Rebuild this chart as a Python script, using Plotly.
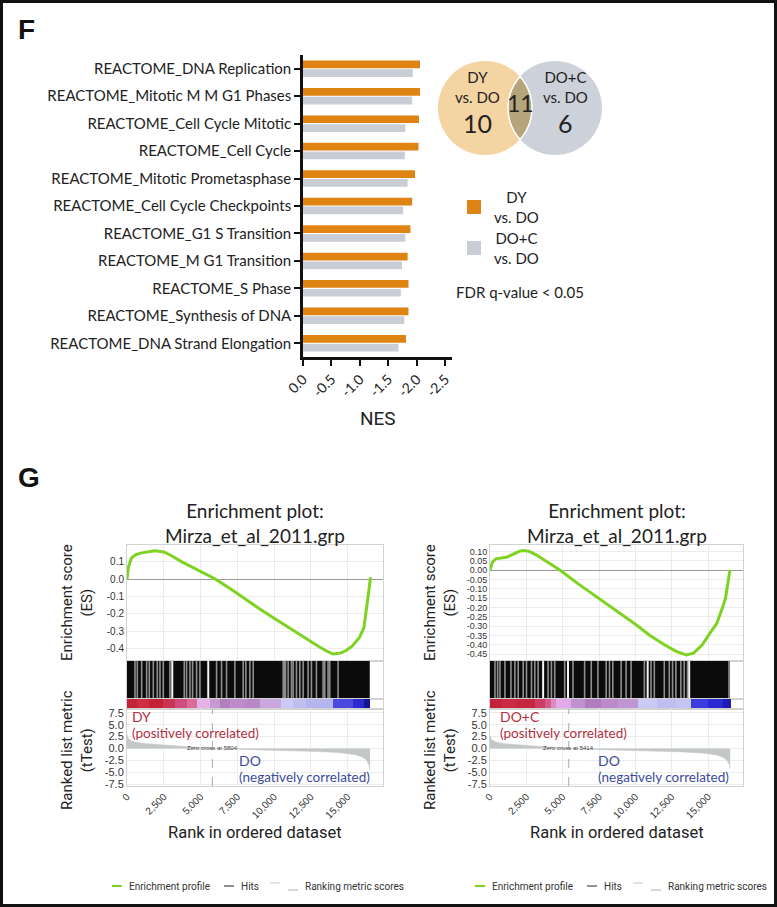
import numpy as np
import plotly.graph_objects as go

W, H = 777, 907

# ---------------- Panel F data ----------------
pathways = [
    "REACTOME_DNA Replication",
    "REACTOME_Mitotic M M G1 Phases",
    "REACTOME_Cell Cycle Mitotic",
    "REACTOME_Cell Cycle",
    "REACTOME_Mitotic Prometasphase",
    "REACTOME_Cell Cycle Checkpoints",
    "REACTOME_G1 S Transition",
    "REACTOME_M G1 Transition",
    "REACTOME_S Phase",
    "REACTOME_Synthesis of DNA",
    "REACTOME_DNA Strand Elongation",
]
nes_dy_vs_do = [-2.14, -2.08, -2.04, -2.03, -1.97, -1.92, -1.89, -1.84, -1.855, -1.855, -1.81]
nes_doc_vs_do = [-1.93, -1.92, -1.80, -1.79, -1.84, -1.76, -1.80, -1.74, -1.72, -1.78, -1.68]
nes_tickvals = [0, -0.5, -1.0, -1.5, -2.0, -2.5]
nes_ticktext = ["0.0", "-0.5", "-1.0", "-1.5", "-2.0", "-2.5"]
series_labels = ["DY<br>vs. DO", "DO+C<br>vs. DO"]
venn_labels = ["DY<br>vs. DO", "DO+C<br>vs. DO"]
venn_counts = [10, 11, 6]  # only-left, shared, only-right

# ---------------- Panel G data ----------------
rank_tickvals = [0, 2500, 5000, 7500, 10000, 12500, 15000]
rank_ticktext = ["0", "2,500", "5,000", "7,500", "10,000", "12,500", "15,000"]
rm_tickvals = [7.5, 5.0, 2.5, 0.0, -2.5, -5.0, -7.5]
rm_ticktext = ["7.5", "5.0", "2.5", "0.0", "-2.5", "-5.0", "-7.5"]

# left: DY vs DO
es_rank_left = [0, 100, 300, 600, 1000, 1500, 1900, 2500, 3000, 3700, 4500, 5200, 6000, 7000, 8000,
                9000, 10000, 11000, 12000, 13000, 13500, 14000, 14500, 14900, 15300, 15800, 16100,
                16300, 16450, 16550]
es_left = [0.0, 0.07, 0.12, 0.14, 0.15, 0.155, 0.162, 0.155, 0.135, 0.10, 0.065, 0.035, 0.0, -0.055,
           -0.115, -0.17, -0.225, -0.28, -0.33, -0.385, -0.41, -0.43, -0.425, -0.41, -0.385, -0.335,
           -0.28, -0.17, -0.06, 0.01]
es_ticks_left = [0.1, 0.0, -0.1, -0.2, -0.3, -0.4]
es_ticktext_left = ["0.1", "0.0", "-0.1", "-0.2", "-0.3", "-0.4"]
hit_gaps_left = [543, 701, 996, 1335, 1516, 1788, 2059, 2240, 2466, 2919, 3892, 4050, 4277, 4458,
                 4730, 4956, 6088, 6428, 6767, 7332, 7898, 8079, 8350, 8577, 10614, 10700, 10772,
                 10953, 11179, 11293, 11519, 11745, 11971, 12310, 12536, 12875, 13328, 13441,
                 13667, 13781, 14347]
hit_white_left = [3077, 5522]
hits_end_left = 16500
band_edges_left = [0, 656, 1500, 2466, 3258, 4050, 4730, 5635, 6300, 6993, 8000, 9030, 10500,
                   11300, 12200, 14000, 15360, 16100, 16500]
band_colors_left = ["#C62238", "#CC2E46", "#C42036", "#CA3452", "#D04C7C", "#DA6A98", "#E6B2EA",
                    "#C49AD0", "#B27EBE", "#BE8CCA", "#B888C6", "#CCA6DE", "#CACAF4", "#BEBEF0",
                    "#B4B4EE", "#4A4AE0", "#2A2AD0", "#14148C"]
rm_rank_left = [0, 100, 300, 600, 1000, 2000, 3000, 4000, 5000, 5804, 7000, 9000, 11000, 13000,
                14500, 15500, 16000, 16300, 16450, 16520]
rm_left = [3.0, 2.0, 1.6, 1.3, 1.1, 0.8, 0.6, 0.4, 0.2, 0.0, -0.15, -0.3, -0.45, -0.65, -0.9,
           -1.3, -1.8, -2.5, -3.5, -4.6]
zero_cross_left = 5804

# right: DO+C vs DO
es_rank_right = [0, 150, 400, 700, 1200, 1600, 2000, 2300, 2700, 3200, 3700, 4200, 4800, 6000,
                 7000, 8000, 9000, 10000, 11000, 12000, 12800, 13500, 14000, 14600, 15200, 15600,
                 16000, 16200, 16400, 16500]
es_right = [0.0, 0.04, 0.06, 0.065, 0.07, 0.085, 0.1, 0.105, 0.1, 0.08, 0.055, 0.03, 0.0, -0.07,
            -0.125, -0.18, -0.235, -0.29, -0.35, -0.40, -0.435, -0.455, -0.445, -0.40, -0.33,
            -0.285, -0.20, -0.15, -0.05, 0.0]
es_ticks_right = [0.10, 0.05, 0.0, -0.05, -0.10, -0.15, -0.20, -0.25, -0.30, -0.35, -0.40, -0.45]
es_ticktext_right = ["0.10", "0.05", "0.00", "-0.05", "-0.10", "-0.15", "-0.20", "-0.25", "-0.30",
                     "-0.35", "-0.40", "-0.45"]
hit_gaps_right = [342, 525, 685, 1027, 1438, 1712, 1940, 2283, 2511, 2854, 3082, 3311, 3995, 4224,
                  4452, 5137, 5708, 6507, 6963, 7420, 7991, 8219, 8447, 9018, 9361, 9703, 10616,
                  11073, 11301, 11986, 12329, 12557, 12785, 13128, 13356, 13584, 16438]
hit_white_right = [3653, 5365, 10845, 13699]
hits_end_right = 16500
band_edges_right = [0, 800, 1800, 3082, 3800, 4224, 4566, 5594, 6500, 7600, 8800, 10160, 11500,
                    12800, 13813, 15000, 16000, 16550]
band_colors_right = ["#C42238", "#CA2C44", "#C6263E", "#CC3C64", "#D45A8C", "#DE8ABC", "#E2AAEA",
                     "#BE92CE", "#B07CBE", "#BC8ACA", "#C096D2", "#CACAF4", "#BEBEF0", "#C4C4F2",
                     "#3C3CDC", "#2A2AD2", "#1C1CB0"]
rm_rank_right = [0, 100, 300, 600, 1000, 2000, 3000, 4000, 5000, 5414, 7000, 9000, 11000, 13000,
                 14500, 15500, 16000, 16300, 16450, 16520]
rm_right = [2.8, 1.9, 1.5, 1.2, 1.0, 0.75, 0.5, 0.3, 0.1, 0.0, -0.2, -0.35, -0.5, -0.7, -0.95,
            -1.35, -1.8, -2.5, -3.3, -4.2]
zero_cross_right = 5414

# ---------------- styling ----------------
ORANGE = "#DF8412"
BARGRAY = "#C9CED6"
V_LEFT = "#F4D4A2"
V_RIGHT = "#CDD2DA"
V_MID = "#B6A57C"
GREEN = "#7ED321"
FILLGRAY = "#C3C7C7"
GRID = "#ECECEC"
FRAME = "#D2D2D2"
RED = "#B3303F"
BLUE = "#3A4A9E"
SANS = "Lato, 'Noto Sans', sans-serif"
COND = "Roboto, 'Liberation Sans', sans-serif"
ARIAL = "'Liberation Sans', Arial, sans-serif"


def fx(px):
    return px / W


def fy(py):
    return 1 - py / H


fig = go.Figure()
layout = {}
annotations = []
shapes = []


def note(text, x, y, size, family=SANS, color="#222", xref="paper", yref="paper", xanchor="center",
         **kw):
    annotations.append(dict(text=text, x=x, y=y, xref=xref, yref=yref, xanchor=xanchor, yanchor="middle",
                            showarrow=False, font=dict(family=family, size=size, color=color), **kw))


# ---------------- Panel F bars ----------------
for vals, col, nm in [(nes_dy_vs_do, ORANGE, series_labels[0]), (nes_doc_vs_do, BARGRAY, series_labels[1])]:
    fig.add_trace(go.Bar(y=pathways, x=vals, orientation="h", marker_color=col, marker_line_width=0,
                         name=nm, showlegend=False, xaxis="x", yaxis="y", hoverinfo="skip"))

layout["xaxis"] = dict(domain=[fx(303), fx(452)], range=[0, -2.62], tickvals=nes_tickvals,
                       ticktext=nes_ticktext, tickangle=-45, ticks="outside", ticklen=6, tickwidth=2,
                       tickcolor="#111", showline=True, linewidth=2.5, linecolor="#111", showgrid=False,
                       zeroline=False, tickfont=dict(family=SANS, size=14, color="#222"), anchor="y",
                       automargin=False)
layout["yaxis"] = dict(domain=[fy(357), fy(55)], type="category", range=[10.5, -0.5], ticks="outside",
                       ticklen=6, tickwidth=2, tickcolor="#111", showline=True, linewidth=2.5,
                       linecolor="#111", showgrid=False, zeroline=False,
                       tickfont=dict(family=SANS, size=15, color="#222"), anchor="x", automargin=False)

note("NES", fx(378), fy(418), 19, family=COND)
note("<b>F</b>", fx(16), fy(29), 28, family=ARIAL, color="#111", xanchor="left")
note("<b>G</b>", fx(16), fy(478), 28, family=ARIAL, color="#111", xanchor="left")

# legend for bars
for i, (col, lab) in enumerate([(ORANGE, series_labels[0]), (BARGRAY, series_labels[1])]):
    cy = 207 + i * 41
    shapes.append(dict(type="rect", xref="paper", yref="paper", x0=fx(467), x1=fx(481),
                       y0=fy(cy + 7), y1=fy(cy - 7), fillcolor=col, line_width=0))
    note(lab, fx(516), fy(cy), 15, align="center")
note("FDR q-value < 0.05", fx(454), fy(292), 15, xanchor="left")

# ---------------- Venn ----------------
layout["xaxis10"] = dict(domain=[fx(420), fx(620)], range=[0, 200], visible=False, anchor="y10",
                         automargin=False)
layout["yaxis10"] = dict(domain=[fy(160), fy(50)], range=[0, 110], visible=False, anchor="x10",
                         automargin=False)
R = 47
cL, cR, cy0 = 65, 135, 52
shapes.append(dict(type="circle", xref="x10", yref="y10", x0=cL - R, x1=cL + R, y0=cy0 - R, y1=cy0 + R,
                   fillcolor=V_LEFT, line_width=0, layer="below"))
shapes.append(dict(type="circle", xref="x10", yref="y10", x0=cR - R, x1=cR + R, y0=cy0 - R, y1=cy0 + R,
                   fillcolor=V_RIGHT, line_width=0, layer="below"))
d = cR - cL
h = np.sqrt(R ** 2 - (d / 2) ** 2)
ang = np.arcsin(h / R)
t1 = np.linspace(-ang, ang, 40)
arc1 = [(cL + R * np.cos(t), cy0 + R * np.sin(t)) for t in t1]          # left circle's right arc
t2 = np.linspace(np.pi - ang, np.pi + ang, 40)
arc2 = [(cR + R * np.cos(t), cy0 + R * np.sin(t)) for t in t2]          # right circle's left arc
pts = arc1 + arc2
path = "M " + " L ".join(f"{x:.2f},{y:.2f}" for x, y in pts) + " Z"
shapes.append(dict(type="path", xref="x10", yref="y10", path=path, fillcolor=V_MID,
                   line=dict(color="white", width=1.5), layer="below"))
note(venn_labels[0], 57, 73, 15, xref="x10", yref="y10")
note(str(venn_counts[0]), 57, 37, 25, xref="x10", yref="y10")
note(str(venn_counts[1]), 100, 57, 23, xref="x10", yref="y10")
note(venn_labels[1], 145, 73, 15, xref="x10", yref="y10")
note(str(venn_counts[2]), 145, 37, 25, xref="x10", yref="y10")


# ---------------- GSEA panels ----------------
def gsea_panel(k, x0, x1, es_rank, es_vals, es_range, es_ticks, es_ticktext, es_fs,
               gaps, whites, hits_end, band_edges, band_colors, rm_rank, rm_vals, zc,
               pos_label, pos_x, neg_x):
    a_es, a_hit, a_band, a_rm = k, k + 1, k + 2, k + 3
    xr = [0, 17400]
    dom = [fx(x0), fx(x1)]
    base_x = dict(domain=dom, range=xr, zeroline=False, showline=True, mirror=True, linecolor=FRAME,
                  linewidth=1, tickvals=rank_tickvals, automargin=False)
    # ES
    layout[f"xaxis{a_es}"] = dict(base_x, showticklabels=False, showgrid=True, gridcolor=GRID,
                                  anchor=f"y{a_es}")
    layout[f"yaxis{a_es}"] = dict(domain=[fy(661), fy(545)], range=es_range, tickvals=es_ticks,
                                  ticktext=es_ticktext, showgrid=True, gridcolor=GRID, zeroline=True,
                                  zerolinecolor="#9A9A9A", zerolinewidth=1, showline=True, mirror=True,
                                  linecolor=FRAME, linewidth=1, ticks="", ticklen=0,
                                  tickfont=dict(family=ARIAL, size=es_fs, color="#333"),
                                  anchor=f"x{a_es}", automargin=False)
    fig.add_trace(go.Scatter(x=es_rank, y=es_vals, mode="lines", line=dict(color=GREEN, width=3),
                             xaxis=f"x{a_es}", yaxis=f"y{a_es}", showlegend=False, hoverinfo="skip"))
    # hits
    layout[f"xaxis{a_hit}"] = dict(base_x, showticklabels=False, showgrid=False, anchor=f"y{a_hit}")
    layout[f"yaxis{a_hit}"] = dict(domain=[fy(699), fy(661)], range=[0, 1], showticklabels=False,
                                   showgrid=False, zeroline=False, showline=True, mirror=True,
                                   linecolor=FRAME, anchor=f"x{a_hit}", automargin=False)
    fig.add_trace(go.Bar(x=[hits_end / 2], y=[1], width=[hits_end], base=[0], marker_color="#0B0B0B",
                         marker_line_width=0, xaxis=f"x{a_hit}", yaxis=f"y{a_hit}", showlegend=False,
                         hoverinfo="skip"))
    gx, gy = [], []
    for g in gaps:
        gx += [g, g, None]
        gy += [0, 1, None]
    fig.add_trace(go.Scatter(x=gx, y=gy, mode="lines", line=dict(color="#8E8E8E", width=1.6),
                             xaxis=f"x{a_hit}", yaxis=f"y{a_hit}", showlegend=False, hoverinfo="skip"))
    wx, wy = [], []
    for g in whites:
        wx += [g, g, None]
        wy += [0, 1, None]
    fig.add_trace(go.Scatter(x=wx, y=wy, mode="lines", line=dict(color="#F4F4F4", width=2),
                             xaxis=f"x{a_hit}", yaxis=f"y{a_hit}", showlegend=False, hoverinfo="skip"))
    # colour band
    layout[f"xaxis{a_band}"] = dict(base_x, showticklabels=False, showgrid=False, anchor=f"y{a_band}")
    layout[f"yaxis{a_band}"] = dict(domain=[fy(709), fy(699)], range=[0, 1], showticklabels=False,
                                    showgrid=False, zeroline=False, showline=True, mirror=True,
                                    linecolor=FRAME, anchor=f"x{a_band}", automargin=False)
    n = len(band_colors)
    cs = []
    for i, c in enumerate(band_colors):
        cs.append([i / n, c])
        cs.append([(i + 1) / n, c])
    fig.add_trace(go.Heatmap(x=band_edges, y=[0.08, 1], z=[[i + 0.5 for i in range(n)]], zmin=0, zmax=n,
                             colorscale=cs, showscale=False, xaxis=f"x{a_band}", yaxis=f"y{a_band}",
                             hoverinfo="skip"))
    # ranked list metric
    layout[f"xaxis{a_rm}"] = dict(base_x, ticktext=rank_ticktext, tickangle=-45, showgrid=True,
                                  gridcolor=GRID, ticks="", tickfont=dict(family=ARIAL, size=10, color="#333"),
                                  anchor=f"y{a_rm}")
    layout[f"yaxis{a_rm}"] = dict(domain=[fy(786), fy(709)], range=[-7.9, 8.3], tickvals=rm_tickvals,
                                  ticktext=rm_ticktext, showgrid=True, gridcolor=GRID, zeroline=False,
                                  showline=True, mirror=True, linecolor=FRAME, ticks="",
                                  tickfont=dict(family=ARIAL, size=11, color="#333"), anchor=f"x{a_rm}",
                                  automargin=False)
    fig.add_trace(go.Scatter(x=rm_rank, y=rm_vals, mode="lines", fill="tozeroy", fillcolor=FILLGRAY,
                             line=dict(color=FILLGRAY, width=0.5), xaxis=f"x{a_rm}", yaxis=f"y{a_rm}",
                             showlegend=False, hoverinfo="skip"))
    shapes.append(dict(type="line", xref=f"x{a_rm}", yref=f"y{a_rm} domain", x0=zc, x1=zc, y0=0, y1=1,
                       line=dict(color="#AAAAAA", width=1, dash="dash")))
    note(f"Zero cross at {zc}", zc, 0, 6, family=ARIAL, color="#444", xref=f"x{a_rm}", yref=f"y{a_rm}")
    dx, dy = f"x{a_rm} domain", f"y{a_rm} domain"
    note(pos_label, pos_x, 0.9, 14, color=RED, xref=dx, yref=dy, xanchor="left")
    note("(positively correlated)", pos_x, 0.69, 13.5, color=RED, xref=dx, yref=dy, xanchor="left")
    note("DO", neg_x, 0.33, 14, color=BLUE, xref=dx, yref=dy, xanchor="left")
    note("(negatively correlated)", neg_x, 0.12, 13.5, color=BLUE, xref=dx, yref=dy, xanchor="left")
    # titles
    cx = (x0 + x1) / 2
    note("Enrichment plot:<br>Mirza_et_al_2011.grp", fx(cx), fy(523), 19)
    note("Rank in ordered dataset", fx(cx), fy(832), 16.5, family=COND)
    tx = x0 - 50
    note("Enrichment score<br>(ES)", fx(tx), fy(603), 15, family=COND, textangle=-90)
    note("Ranked list metric<br>(tTest)", fx(tx), fy(750), 15, family=COND, textangle=-90)
    # bottom legend
    lx = x0 - 15
    ly = 886
    shapes.append(dict(type="line", xref="paper", yref="paper", x0=fx(lx), x1=fx(lx + 10), y0=fy(ly),
                       y1=fy(ly), line=dict(color=GREEN, width=2)))
    note("Enrichment profile", fx(lx + 15), fy(ly), 10, family=COND, color="#333", xanchor="left")
    shapes.append(dict(type="line", xref="paper", yref="paper", x0=fx(lx + 112), x1=fx(lx + 122),
                       y0=fy(ly), y1=fy(ly), line=dict(color="#222", width=1)))
    note("Hits", fx(lx + 127), fy(ly), 10, family=COND, color="#333", xanchor="left")
    shapes.append(dict(type="line", xref="paper", yref="paper", x0=fx(lx + 158), x1=fx(lx + 168),
                       y0=fy(ly - 3), y1=fy(ly - 3), line=dict(color="#C8C8C8", width=1)))
    shapes.append(dict(type="line", xref="paper", yref="paper", x0=fx(lx + 176), x1=fx(lx + 186),
                       y0=fy(ly + 4), y1=fy(ly + 4), line=dict(color="#C8C8C8", width=1.5)))
    note("Ranking metric scores", fx(lx + 191), fy(ly), 10, family=COND, color="#333", xanchor="left")


gsea_panel(2, 127, 383, es_rank_left, es_left, [-0.47, 0.195], es_ticks_left, es_ticktext_left, 10,
           hit_gaps_left, hit_white_left, hits_end_left, band_edges_left, band_colors_left,
           rm_rank_left, rm_left, zero_cross_left, "DY", 0.01, 0.43)
gsea_panel(6, 490, 743, es_rank_right, es_right, [-0.487, 0.134], es_ticks_right, es_ticktext_right, 9,
           hit_gaps_right, hit_white_right, hits_end_right, band_edges_right, band_colors_right,
           rm_rank_right, rm_right, zero_cross_right, "DO+C", 0.03, 0.42)

# outer frame
shapes.append(dict(type="rect", xref="paper", yref="paper", x0=0, x1=1, y0=0, y1=1,
                   line=dict(color="#111", width=6), fillcolor="rgba(0,0,0,0)"))

fig.update_layout(**layout)
fig.update_layout(width=W, height=H, margin=dict(l=0, r=0, t=0, b=0, pad=0, autoexpand=False),
                  paper_bgcolor="white", plot_bgcolor="white", barmode="group", bargap=0.36,
                  bargroupgap=0.12, showlegend=False, annotations=annotations, shapes=shapes)
fig.write_html("out.html", config={"displayModeBar": False},
               post_script="document.body.style.margin='0px';document.body.style.overflow='hidden';")
